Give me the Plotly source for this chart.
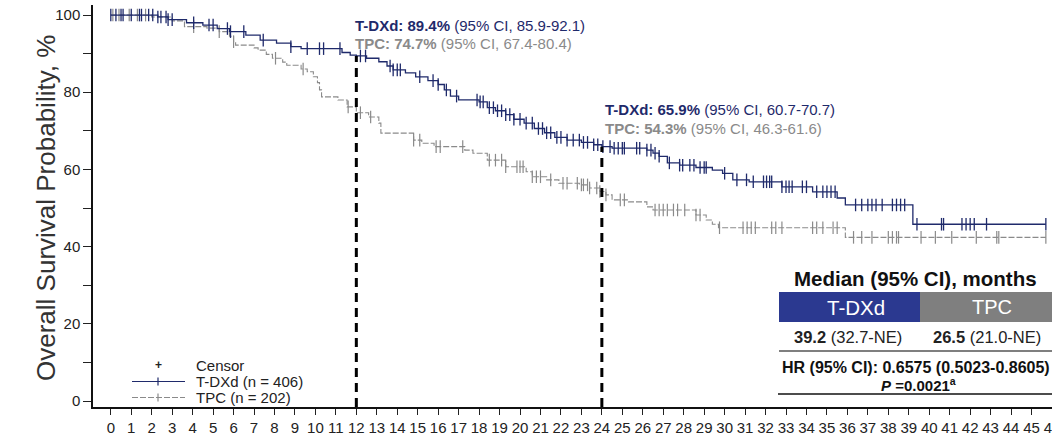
import numpy as np
import plotly.graph_objects as go

# ---------------- data ----------------
tdxd_time = [0, 2.3, 2.8, 3.7, 4.5, 5.2, 5.8, 6.6, 7.3, 8.1, 8.8, 9.3, 11.3, 11.7, 12.0, 12.5,
             13.1, 13.5, 13.8, 14.4, 14.9, 15.5, 16.0, 16.3, 16.6, 17.0, 18.0, 18.4, 18.8, 19.3,
             19.7, 20.2, 20.7, 21.2, 21.7, 22.3, 23.0, 23.6, 24.0, 24.5, 26.2, 26.5, 26.8, 27.2,
             27.8, 28.6, 29.4, 29.9, 30.4, 31.2, 32.8, 34.3, 35.5, 35.9, 39.2, 45.7]
tdxd_surv = [100, 99.5, 98.8, 98.0, 97.4, 96.5, 95.7, 94.8, 93.5, 92.7, 91.8, 91.3, 90.3, 89.6, 89.4, 88.8,
             87.9, 86.8, 85.8, 85.0, 84.0, 83.0, 82.0, 80.6, 79.0, 78.0, 77.5, 76.0, 75.2, 74.2,
             73.0, 72.0, 70.6, 69.5, 68.3, 67.6, 67.0, 66.4, 65.9, 65.5, 65.0, 64.2, 63.4, 61.7,
             61.1, 60.5, 59.8, 59.0, 57.3, 56.8, 55.5, 54.2, 52.6, 50.8, 45.8, 45.8]
tdxd_censor = [0.0, 0.25, 0.5, 0.6, 1.0, 1.4, 1.5, 1.85, 2.05, 2.3, 2.45, 2.7, 2.8, 3.0,
               4.05, 4.8, 5.0, 5.7, 5.85, 6.5, 7.45, 8.8, 9.6, 10.2, 10.4, 11.2, 12.2, 12.45,
               13.65, 13.8, 14.0, 14.15, 15.1, 15.75, 16.0, 16.4, 16.9, 17.9, 18.05, 18.2,
               18.5, 18.7, 18.9, 19.1, 19.3, 19.5, 19.7, 20.0, 20.3, 20.6, 20.9, 21.1, 21.3,
               21.5, 21.8, 22.0, 22.3, 22.6, 22.9, 23.1, 23.3, 23.6, 23.8, 24.05, 24.4, 24.6,
               24.8, 25.0, 25.1, 25.7, 25.85, 26.2, 26.4, 26.6, 26.8, 27.3, 27.8, 27.95, 28.3,
               28.5, 28.8, 29.0, 29.1, 30.0, 30.6, 31.07, 31.4, 31.9, 32.05, 32.2, 32.3, 32.8,
               33.0, 33.15, 33.3, 33.8, 34.0, 34.5, 34.8, 35.0, 35.2, 35.4, 36.4, 36.7, 37.0,
               37.2, 37.4, 37.7, 38.2, 38.4, 38.6, 38.8, 39.4, 40.6, 40.7, 41.6, 41.8, 42.0,
               42.2, 42.8, 45.7]

tpc_time = [0, 2.0, 3.0, 3.6, 4.7, 5.3, 5.8, 6.0, 6.1, 7.0, 7.2, 7.6, 7.9, 8.4, 8.6, 9.3, 9.6,
            9.9, 10.1, 10.2, 10.3, 11.1, 11.55, 12.0, 12.6, 13.1, 13.2, 14.8, 15.2, 15.8, 17.3,
            17.7, 18.4, 19.3, 20.3, 20.6, 21.3, 21.9, 22.9, 23.4, 23.9, 24.2, 24.5, 25.3, 26.2,
            26.5, 28.6, 29.1, 29.4, 29.7, 35.9, 45.7]
tpc_surv = [100, 99.5, 98.5, 97.0, 96.6, 95.7, 94.5, 93.1, 92.2, 91.5, 90.9, 89.8, 88.8, 87.8, 87.0,
            86.0, 85.3, 84.0, 82.5, 80.6, 78.8, 78.0, 76.2, 74.7, 73.6, 72.0, 69.4, 67.6, 66.8, 65.9,
            65.0, 64.2, 62.4, 60.7, 59.4, 58.1, 57.3, 56.4, 56.0, 55.2, 54.3, 53.4, 52.1, 51.6, 50.3,
            49.5, 48.2, 46.9, 45.8, 44.9, 42.4, 42.4]
tpc_censor = [0.1, 0.4, 0.9, 1.3, 1.7, 4.05, 5.3, 6.0, 8.05, 9.4, 11.6, 12.2, 12.7, 14.8, 15.1,
              15.9, 16.1, 17.2, 18.5, 18.8, 19.1, 19.3, 19.85, 20.0, 20.15, 20.6, 20.8, 21.0,
              21.5, 22.1, 22.3, 22.8, 23.0, 23.1, 23.3, 23.4, 23.75, 23.9, 24.2, 24.9, 25.1,
              26.6, 26.8, 27.0, 27.2, 27.5, 27.7, 28.05, 28.6, 28.8, 29.75, 30.9, 31.1, 31.3,
              31.5, 32.3, 32.5, 32.8, 34.3, 34.5, 34.8, 35.3, 35.5, 36.3, 36.7, 37.2, 38.0,
              38.2, 38.4, 38.5, 39.6, 40.3, 41.1, 42.3, 43.3, 43.4, 45.7]

landmark_months = [12, 24]
tdxd_landmark = [89.4, 65.9]
tdxd_landmark_ci = ["85.9-92.1", "60.7-70.7"]
tpc_landmark = [74.7, 54.3]
tpc_landmark_ci = ["67.4-80.4", "46.3-61.6"]

median_tdxd = ["39.2", "(32.7-NE)"]
median_tpc = ["26.5", "(21.0-NE)"]
hr_text = "HR (95% CI): 0.6575 (0.5023-0.8605)"
p_text = "0.0021"

x_ticks = list(range(0, 47))
y_ticks = list(range(0, 101, 10))
y_tick_labels = [str(v) if v % 20 == 0 else "" for v in y_ticks]

# ---------------- style ----------------
NAVY = "#1f2a6b"
GRAY = "#8a8a8a"
BOX_BLUE = "#2b3990"
BOX_GRAY = "#7f7f7f"
FONT = "Liberation Sans, Arial, sans-serif"

W, H = 1052, 435
ML, MR, MT, MB = 93, 0, 5, 28
PW, PH = W - ML - MR, H - MT - MB


def fx(px):
    return (px - ML) / PW


def fy(py):
    return (H - MB - py) / PH


def step_at(times, surv, t):
    i = np.searchsorted(np.array(times), t, side="right") - 1
    return np.array(surv)[np.clip(i, 0, len(surv) - 1)]


fig = go.Figure()

fig.add_trace(go.Scatter(x=tpc_time, y=tpc_surv, mode="lines", line_shape="hv",
                         line=dict(color=GRAY, width=1.1, dash="6px,2px"), showlegend=False))
fig.add_trace(go.Scatter(x=tpc_censor, y=[step_at(tpc_time, tpc_surv, t) for t in tpc_censor],
                         mode="markers", marker=dict(symbol="line-ns", size=9,
                                                     line=dict(color=GRAY, width=1.2)),
                         showlegend=False))
fig.add_trace(go.Scatter(x=tdxd_time, y=tdxd_surv, mode="lines", line_shape="hv",
                         line=dict(color=NAVY, width=1.3), showlegend=False))
fig.add_trace(go.Scatter(x=tdxd_censor, y=[step_at(tdxd_time, tdxd_surv, t) for t in tdxd_censor],
                         mode="markers", marker=dict(symbol="line-ns", size=9,
                                                     line=dict(color=NAVY, width=1.3)),
                         showlegend=False))

Y0 = -1.55
shapes = []
annotations = []
for m, v in zip(landmark_months, tdxd_landmark):
    shapes.append(dict(type="line", xref="x", yref="y", x0=m, x1=m, y0=Y0, y1=v,
                       line=dict(color="black", width=3, dash="9px,6px")))

label_y = [(97.2, 92.6), (75.4, 70.7)]
label_shift = [-3, 1]
for i, m in enumerate(landmark_months):
    annotations.append(dict(x=m, y=label_y[i][0], xref="x", yref="y", xanchor="left",
                            yanchor="middle", xshift=label_shift[i], showarrow=False,
                            text=f"<b>T-DXd: {tdxd_landmark[i]}%</b> (95% CI, {tdxd_landmark_ci[i]})",
                            font=dict(size=15, color=NAVY, family=FONT)))
    annotations.append(dict(x=m, y=label_y[i][1], xref="x", yref="y", xanchor="left",
                            yanchor="middle", xshift=label_shift[i], showarrow=False,
                            text=f"<b>TPC: {tpc_landmark[i]}%</b> (95% CI, {tpc_landmark_ci[i]})",
                            font=dict(size=15, color=GRAY, family=FONT)))

# y-axis title
annotations.append(dict(x=fx(46), y=fy(208), xref="paper", yref="paper", xanchor="center",
                        yanchor="middle", textangle=-90, showarrow=False,
                        text="Overall Survival Probability, %",
                        font=dict(size=26, color="#333333", family=FONT)))

# table
annotations.append(dict(x=fx(915), y=fy(278), xref="paper", yref="paper", showarrow=False,
                        xanchor="center", yanchor="middle", text="<b>Median (95% CI), months</b>",
                        font=dict(size=20.5, color="#111111", family=FONT)))
shapes.append(dict(type="rect", xref="paper", yref="paper", x0=fx(779), x1=fx(920),
                   y0=fy(322), y1=fy(292), fillcolor=BOX_BLUE, line=dict(width=0)))
shapes.append(dict(type="rect", xref="paper", yref="paper", x0=fx(920), x1=fx(1052),
                   y0=fy(322), y1=fy(292), fillcolor=BOX_GRAY, line=dict(width=0)))
annotations.append(dict(x=fx(856), y=fy(307), xref="paper", yref="paper", showarrow=False,
                        xanchor="center", yanchor="middle", text="T-DXd",
                        font=dict(size=20.5, color="white", family=FONT)))
annotations.append(dict(x=fx(992), y=fy(307), xref="paper", yref="paper", showarrow=False,
                        xanchor="center", yanchor="middle", text="TPC",
                        font=dict(size=20, color="white", family=FONT)))
annotations.append(dict(x=fx(848), y=fy(337), xref="paper", yref="paper", showarrow=False,
                        xanchor="center", yanchor="middle",
                        text=f"<b>{median_tdxd[0]}</b> {median_tdxd[1]}",
                        font=dict(size=16.5, color="#222222", family=FONT)))
annotations.append(dict(x=fx(987), y=fy(337), xref="paper", yref="paper", showarrow=False,
                        xanchor="center", yanchor="middle",
                        text=f"<b>{median_tpc[0]}</b> {median_tpc[1]}",
                        font=dict(size=16.5, color="#222222", family=FONT)))
shapes.append(dict(type="line", xref="paper", yref="paper", x0=fx(779), x1=fx(1052),
                   y0=fy(351), y1=fy(351), line=dict(color="#555555", width=1.5)))
annotations.append(dict(x=fx(780), y=fy(367), xref="paper", yref="paper", showarrow=False,
                        xanchor="left", yanchor="middle", text=f"<b>{hr_text}</b>",
                        font=dict(size=16, color="#111111", family=FONT)))
annotations.append(dict(x=fx(918), y=fy(384), xref="paper", yref="paper", showarrow=False,
                        xanchor="center", yanchor="middle",
                        text=f"<b><i>P</i> ={p_text}<sup>a</sup></b>",
                        font=dict(size=15, color="#111111", family=FONT)))
shapes.append(dict(type="line", xref="paper", yref="paper", x0=fx(778), x1=fx(1052),
                   y0=fy(394), y1=fy(394), line=dict(color="#111111", width=1.5)))

# legend (drawn manually)
annotations.append(dict(x=fx(158), y=fy(365), xref="paper", yref="paper", showarrow=False,
                        xanchor="center", yanchor="middle", text="<b>+</b>",
                        font=dict(size=12, color="#222222", family=FONT)))
legend_rows = [("Censor", 365), ("T-DXd (n = 406)", 381.5), ("TPC (n = 202)", 397.5)]
for txt, py in legend_rows:
    annotations.append(dict(x=fx(194), y=fy(py), xref="paper", yref="paper", showarrow=False,
                            xanchor="left", yanchor="middle", text=txt,
                            font=dict(size=15, color="#222222", family=FONT)))
for (col, dash, py) in [(NAVY, "solid", 381.5), (GRAY, "6px,2px", 397.5)]:
    shapes.append(dict(type="line", xref="paper", yref="paper", x0=fx(132), x1=fx(185),
                       y0=fy(py), y1=fy(py), line=dict(color=col, width=1.1, dash=dash)))
    shapes.append(dict(type="line", xref="paper", yref="paper", x0=fx(158), x1=fx(158),
                       y0=fy(py - 4), y1=fy(py + 4), line=dict(color=col, width=1.2)))

fig.update_layout(
    width=W, height=H,
    margin=dict(l=ML, r=MR, t=MT, b=MB, pad=0, autoexpand=False),
    paper_bgcolor="white", plot_bgcolor="white",
    font=dict(family=FONT, color="#222222"),
    shapes=shapes, annotations=annotations,
    showlegend=False,
    xaxis=dict(range=[-0.87, 46.0], tickmode="array", tickvals=x_ticks, automargin=False,
               ticktext=[str(v) for v in x_ticks], tickangle=0, ticklabeloverflow="allow",
               ticks="outside", ticklen=6, tickwidth=1, tickcolor="#222222",
               showline=True, linecolor="#111111", linewidth=1.5,
               showgrid=False, zeroline=False, tickfont=dict(size=15, color="#222222")),
    yaxis=dict(range=[Y0, 102.6], tickmode="array", tickvals=y_ticks, ticktext=y_tick_labels,
               automargin=False,
               ticks="outside", ticklen=8, tickwidth=1, tickcolor="#222222",
               showline=True, linecolor="#111111", linewidth=1.5,
               showgrid=False, zeroline=False, tickfont=dict(size=15, color="#222222")),
)

fig.write_html("out.html")
